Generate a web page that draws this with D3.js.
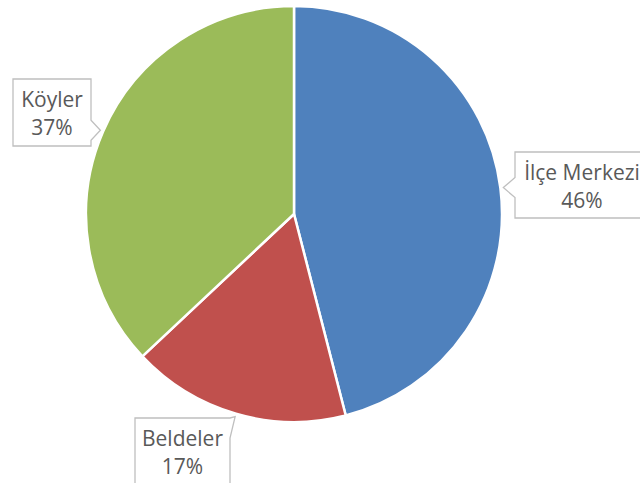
<!DOCTYPE html>
<html>
<head>
<meta charset="utf-8">
<script src="https://cdn.jsdelivr.net/npm/d3@7"></script>
<style>
  body { margin: 0; background: #fff; }
  text { font-family: "Open Sans", "Noto Sans", sans-serif; fill: #595959; }
</style>
</head>
<body>
<svg id="chart" width="640" height="483"></svg>
<script>
// slice data (percent)
var names = ["İlçe Merkezi", "Beldeler", "Köyler"];
var values = [46, 17, 37];
var colors = ["#4F81BD", "#C0504D", "#9BBB59"];

var width = 640, height = 483;
var cx = 294, cy = 214, radius = 208;

// callout boxes: x, y, w, h
var boxes = [
    [515, 152, 134, 66],
    [135, 418, 95, 67],
    [13, 79, 78, 67]
];

var svg = d3.select("#chart");
var g = svg.append("g").attr("transform", "translate(" + cx + "," + cy + ")");

var pie = d3.pie().sort(null).value(function(d) { return d; });
var arcs = pie(values);

var arc = d3.arc().innerRadius(0).outerRadius(radius);
var tipArc = d3.arc().innerRadius(radius + 3).outerRadius(radius + 3);

g.selectAll("path.slice").data(arcs).enter().append("path")
    .attr("class", "slice")
    .attr("d", arc)
    .attr("fill", function(d, i) { return colors[i]; })
    .attr("stroke", "#fff")
    .attr("stroke-width", 2.5)
    .attr("stroke-linejoin", "round");

// callout path with a little wedge pointing at the slice
function callout(b, tip) {
    var x0 = b[0], y0 = b[1], x1 = b[0] + b[2], y1 = b[1] + b[3];
    var tx = tip[0], ty = tip[1];
    var hw = 10;
    var p;
    if (tx > x1) {          // right side
        var m = Math.max(y0 + hw, Math.min(y1 - hw, ty));
        p = [[x0, y0], [x1, y0], [x1, m - hw], [tx, ty], [x1, m + hw], [x1, y1], [x0, y1]];
    } else if (tx < x0) {   // left side
        var m = Math.max(y0 + hw, Math.min(y1 - hw, ty));
        p = [[x0, y0], [x1, y0], [x1, y1], [x0, y1], [x0, m + hw], [tx, ty], [x0, m - hw]];
    } else {                // top side
        var m = Math.max(x0 + hw, Math.min(x1 - hw, tx));
        p = [[x0, y0], [m - hw, y0], [tx, ty], [m + hw, y0], [x1, y0], [x1, y1], [x0, y1]];
    }
    return "M" + p.map(function(q) { return q.join(","); }).join("L") + "Z";
}

var labels = svg.selectAll("g.label").data(arcs).enter().append("g").attr("class", "label");

labels.append("path")
    .attr("d", function(d, i) {
        var c = tipArc.centroid(d);
        return callout(boxes[i], [c[0] + cx, c[1] + cy]);
    })
    .attr("fill", "#fff")
    .attr("stroke", "#BFBFBF")
    .attr("stroke-width", 1.3);

labels.append("text")
    .attr("x", function(d, i) { return boxes[i][0] + boxes[i][2] / 2; })
    .attr("y", function(d, i) { return boxes[i][1] + 28; })
    .attr("text-anchor", "middle")
    .attr("font-size", 21)
    .text(function(d, i) { return names[i]; });

labels.append("text")
    .attr("x", function(d, i) { return boxes[i][0] + boxes[i][2] / 2; })
    .attr("y", function(d, i) { return boxes[i][1] + 56; })
    .attr("text-anchor", "middle")
    .attr("font-size", 21)
    .text(function(d, i) { return values[i] + "%"; });
</script>
</body>
</html>
